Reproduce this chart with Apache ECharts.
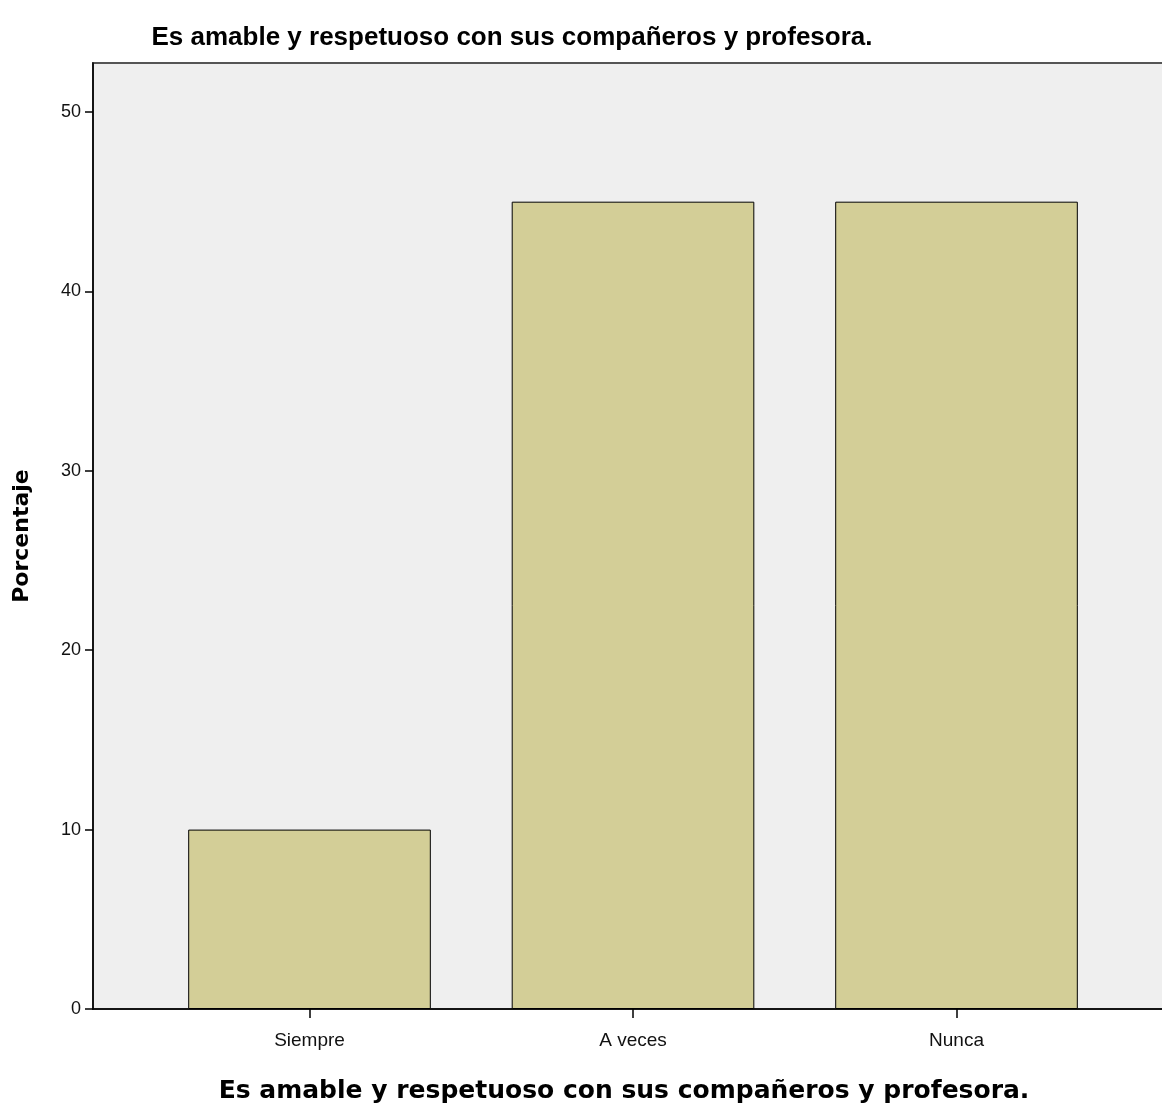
<!DOCTYPE html>
<html>
<head>
<meta charset="utf-8">
<script src="https://cdn.jsdelivr.net/npm/echarts@6/dist/echarts.min.js"></script>
<style>
html,body{margin:0;padding:0;background:#fff;}
#chart{width:1162px;height:1113px;}
</style>
</head>
<body>
<div id="chart"></div>
<script>
var categories = ['Siempre', 'A veces', 'Nunca'];
var percentValues = [10, 45, 45];
var yTicks = [0, 10, 20, 30, 40, 50];
var chartTitle = 'Es amable y respetuoso con sus compañeros y profesora.';
var xTitle = 'Es amable y respetuoso con sus compañeros y profesora.';
var yTitle = 'Porcentaje';

var narrow = '"Liberation Sans Narrow", "Arial Narrow", "Liberation Sans", sans-serif';
var chart = echarts.init(document.getElementById('chart'));
chart.setOption({
  backgroundColor: '#ffffff',
  animation: false,
  title: [
    {text: chartTitle, left: 507, top: 20, textAlign: 'center',
     textStyle: {fontFamily: narrow, fontWeight: 'bold', fontSize: 26, color: '#000'}},
    {text: xTitle, left: 619, top: 1074, textAlign: 'center',
     textStyle: {fontFamily: '"DejaVu Sans", sans-serif', fontWeight: 'bold', fontSize: 25, color: '#000'}}
  ],
  grid: [
    {left: 93, top: 63, width: 1100, bottom: 104, outerBoundsMode: 'none', containLabel: false,
     show: true, backgroundColor: '#efefef', borderColor: '#555', borderWidth: 2},
    {left: 147.75, width: 970.5, top: 63, bottom: 104, outerBoundsMode: 'none', containLabel: false}
  ],
  xAxis: [
    {type: 'value', gridIndex: 0, min: 0, max: 1, axisLine: {show: true, onZero: false, lineStyle: {color: '#000', width: 1.5}},
     axisTick: {show: false}, axisLabel: {show: false}, splitLine: {show: false}},
    {type: 'category', gridIndex: 1, data: categories,
     axisLine: {show: false},
     axisTick: {show: true, alignWithLabel: true, length: 9, lineStyle: {color: '#000', width: 1.5}},
     axisLabel: {fontFamily: narrow, fontSize: 19, color: '#111', margin: 22}}
  ],
  yAxis: [
    {type: 'value', gridIndex: 0, min: 0, max: 52.73, interval: 10,
     name: yTitle, nameLocation: 'middle', nameGap: 60, nameRotate: 90,
     nameTextStyle: {fontFamily: '"DejaVu Sans", sans-serif', fontWeight: 'bold', fontSize: 22, color: '#000', letterSpacing: 12},
     axisLine: {show: true, lineStyle: {color: '#000', width: 1.5}},
     axisTick: {show: true, length: 8, customValues: yTicks, lineStyle: {color: '#000', width: 1.5}},
     axisLabel: {fontFamily: narrow, fontSize: 18, color: '#111', margin: 12, customValues: yTicks},
     splitLine: {show: false}},
    {type: 'value', gridIndex: 1, min: 0, max: 52.73, show: false, splitLine: {show: false}}
  ],
  series: [{
    type: 'bar', xAxisIndex: 1, yAxisIndex: 1, data: percentValues, barWidth: '75%',
    itemStyle: {color: '#d3ce97', borderColor: '#000', borderWidth: 1}
  }]
});
</script>
</body>
</html>
